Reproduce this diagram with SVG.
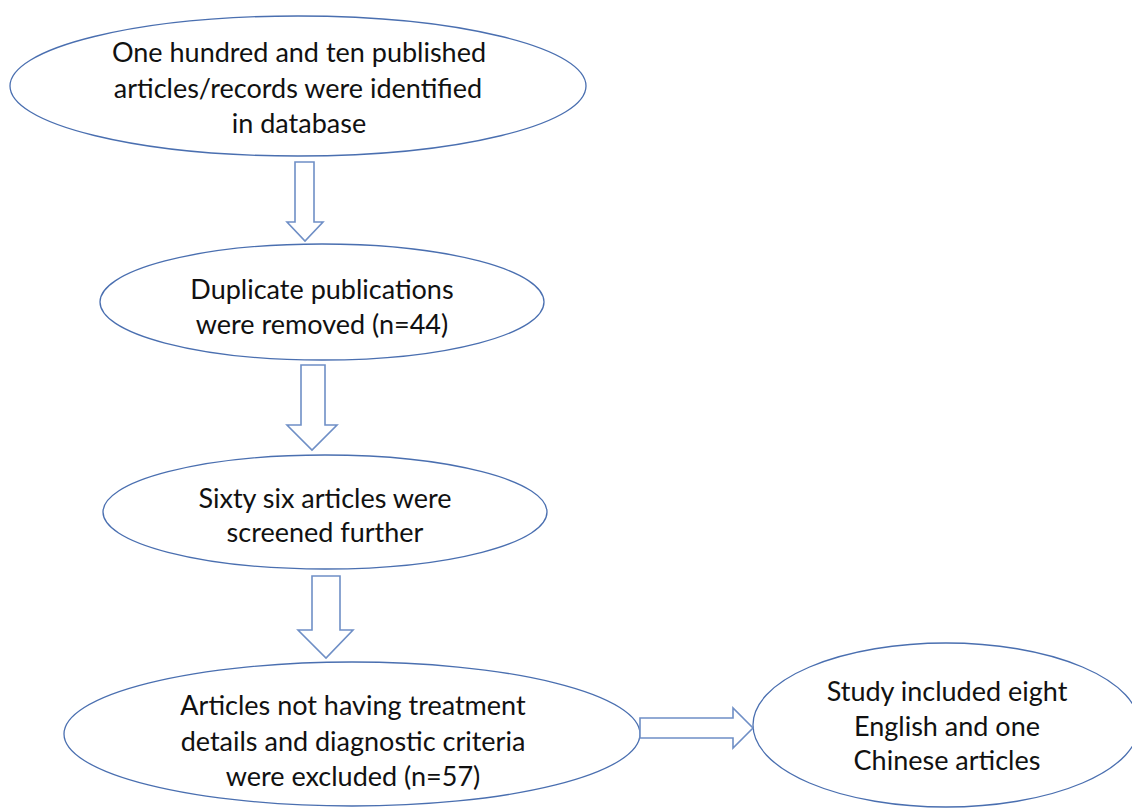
<svg xmlns="http://www.w3.org/2000/svg" width="1132" height="809" viewBox="0 0 1132 809">
<style>
.node ellipse{fill:#ffffff;stroke:#4a6fb0;stroke-width:1.3}
.node text{font-family:Lato,"Liberation Sans",sans-serif;font-size:27px;fill:#111111;text-anchor:middle;dominant-baseline:central}
.conn path{fill:#ffffff;stroke:#6f8fc6;stroke-width:1.6;stroke-linejoin:miter}
</style>
<rect width="1132" height="809" fill="#ffffff"/>
<g id="n1" class="node">
<ellipse cx="298" cy="86" rx="288" ry="70"/>
<text x="299" y="51">One hundred and ten published</text>
<text x="298" y="87">articles/records were identified</text>
<text x="299" y="122">in database</text>
</g>
<g id="n2" class="node">
<ellipse cx="322" cy="302" rx="222" ry="58"/>
<text x="322" y="288">Duplicate publications</text>
<text x="322" y="323">were removed (n=44)</text>
</g>
<g id="n3" class="node">
<ellipse cx="325" cy="512" rx="222" ry="57"/>
<text x="325" y="497">Sixty six articles were</text>
<text x="325" y="531">screened further</text>
</g>
<g id="n4" class="node">
<ellipse cx="352" cy="734" rx="288" ry="72"/>
<text x="353" y="704">Articles not having treatment</text>
<text x="353" y="740">details and diagnostic criteria</text>
<text x="353" y="775">were excluded (n=57)</text>
</g>
<g id="n5" class="node">
<ellipse cx="946" cy="725" rx="193" ry="82"/>
<text x="947" y="690">Study included eight</text>
<text x="947" y="725">English and one</text>
<text x="947" y="759">Chinese articles</text>
</g>
<g id="connectors" class="conn">
<path d="M295,162 H314 V222 H323 L305,241 L287,222 H295 Z"/>
<path d="M301,365 H325 V425 H337 L312,450 L287,425 H301 Z"/>
<path d="M312,576 H340 V630 H353 L326,658 L298,630 H312 Z"/>
<path d="M640,718 V738 H733 V748 L753,728 L733,708 V718 Z"/>
</g>
</svg>
